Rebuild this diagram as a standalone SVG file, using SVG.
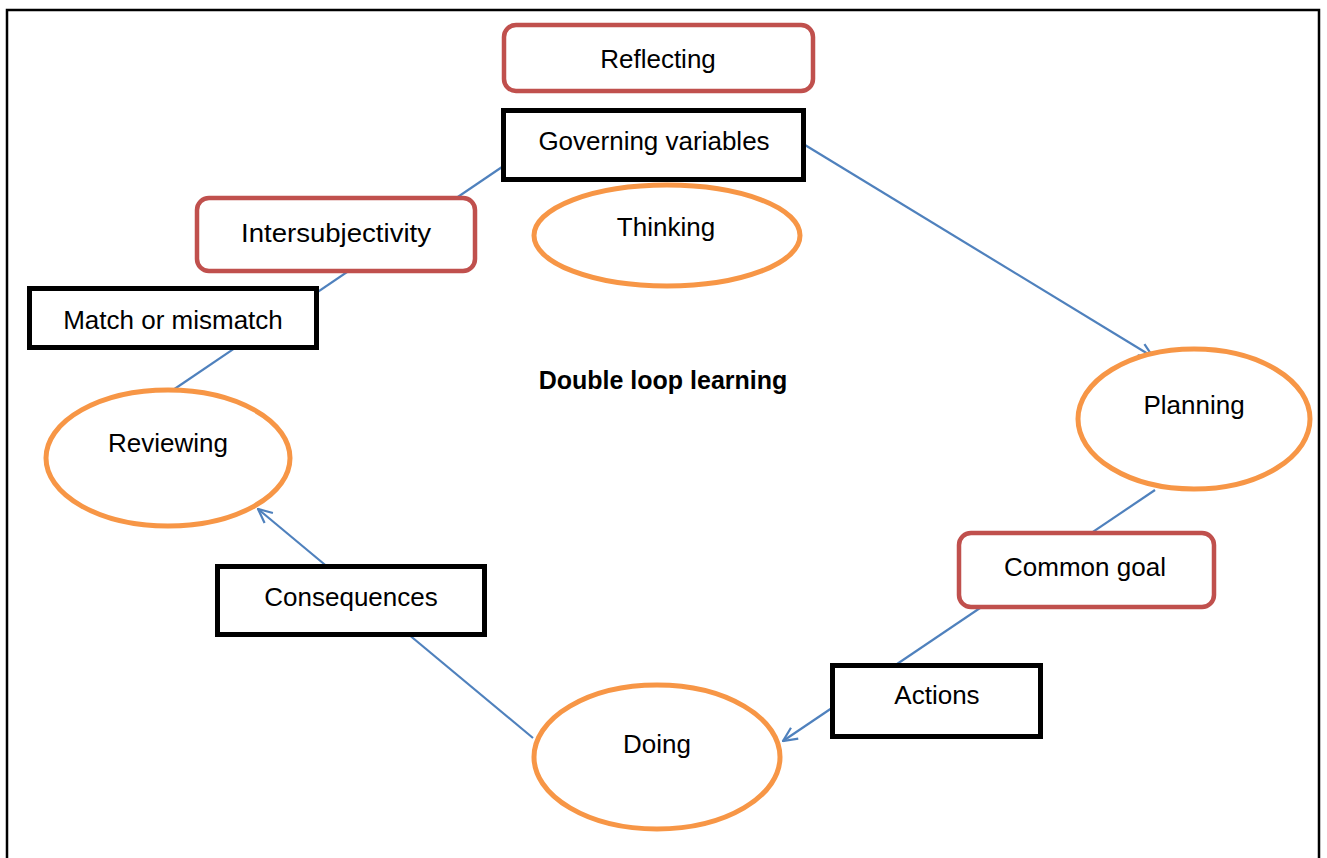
<svg xmlns="http://www.w3.org/2000/svg" width="1327" height="858" viewBox="0 0 1327 858">
<style>
text{font-family:"Liberation Sans",Arial,sans-serif;font-size:26px;fill:#000;text-anchor:middle}
.title{font-weight:bold;font-size:25px}
.oval{fill:#fff;stroke:#F79646;stroke-width:5}
.soft{fill:#fff;stroke:#C0504D;stroke-width:4.5}
.box{fill:#fff;stroke:#000;stroke-width:5}
.conn{fill:none;stroke:#4F81BD;stroke-width:2.2}
</style>
<defs>
<marker id="arr" viewBox="0 0 16 16" refX="15" refY="8" markerWidth="16" markerHeight="16" markerUnits="userSpaceOnUse" orient="auto">
<path d="M1,1.5 L15,8 L1,14.5" fill="none" stroke="#4F81BD" stroke-width="2.2"/>
</marker>
</defs>
<rect x="0" y="0" width="1327" height="858" fill="#fff"/>
<path d="M7,858 L7,10 L1319,10 L1319,858" fill="none" stroke="#000" stroke-width="2.5"/>
<g id="connectors">
<path class="conn" d="M805,145 L1153,357" marker-end="url(#arr)"/>
<path class="conn" d="M1155,490 L783,741" marker-end="url(#arr)"/>
<path class="conn" d="M533,738 L258,509" marker-end="url(#arr)"/>
<path class="conn" d="M173,390 L502,167"/>
</g>
<g id="reflecting"><rect class="soft" x="504" y="25" width="309" height="66" rx="12"/><text x="658" y="68">Reflecting</text></g>
<g id="governing"><rect class="box" x="503.5" y="110.5" width="300" height="69"/><text x="654" y="150">Governing variables</text></g>
<g id="thinking"><ellipse class="oval" cx="667" cy="235.5" rx="133" ry="50.5"/><text x="666" y="236">Thinking</text></g>
<g id="intersubjectivity"><rect class="soft" x="197" y="198" width="278" height="73" rx="12"/><text x="336" y="242" textLength="190" lengthAdjust="spacingAndGlyphs">Intersubjectivity</text></g>
<g id="match"><rect class="box" x="29.5" y="288.5" width="287" height="59"/><text x="173" y="329">Match or mismatch</text></g>
<g id="reviewing"><ellipse class="oval" cx="168" cy="458" rx="122" ry="68"/><text x="168" y="452">Reviewing</text></g>
<g id="consequences"><rect class="box" x="217.5" y="566.5" width="267" height="68"/><text x="351" y="606">Consequences</text></g>
<g id="doing"><ellipse class="oval" cx="657" cy="757" rx="123" ry="72"/><text x="657" y="753">Doing</text></g>
<g id="actions"><rect class="box" x="832.5" y="665.5" width="208" height="71"/><text x="937" y="704">Actions</text></g>
<g id="commongoal"><rect class="soft" x="959" y="533" width="255" height="74" rx="12"/><text x="1085" y="576">Common goal</text></g>
<g id="planning"><ellipse class="oval" cx="1194" cy="419" rx="116" ry="70"/><text x="1194" y="414">Planning</text></g>
<g id="title"><text class="title" x="663" y="389">Double loop learning</text></g>
</svg>
